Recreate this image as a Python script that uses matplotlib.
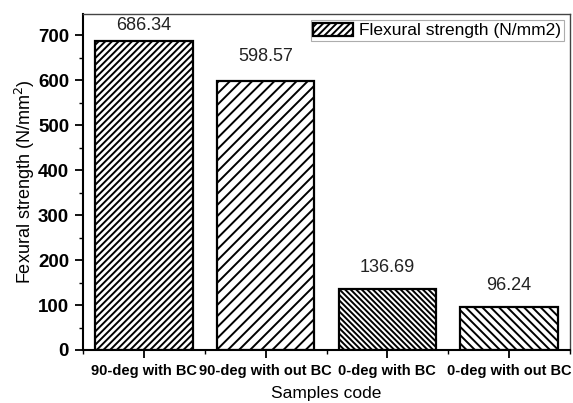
import matplotlib
matplotlib.use("Agg")
import matplotlib.pyplot as plt
from matplotlib.ticker import MultipleLocator

plt.rcParams['font.family'] = ['Liberation Sans', 'DejaVu Sans']
plt.rcParams['hatch.linewidth'] = 1.4

categories = ["90-deg with BC", "90-deg with out BC", "0-deg with BC", "0-deg with out BC"]
values = [686.34, 598.57, 136.69, 96.24]
labels = ["686.34", "598.57", "136.69", "96.24"]
# style: hatch per bar and label gap above each bar (data units)
hatches = ["/////", "///", "\\" * 6, "\\" * 4]
label_gap = [36, 55, 47, 47]

fig = plt.figure(figsize=(5.73, 4.03), dpi=100)
ax = fig.add_axes([83/573, 1-350/403, (570-83)/573, (350-14)/403])

x = list(range(len(categories)))
bars = ax.bar(x, values, width=0.8, color="white", edgecolor="black", linewidth=1.6)
for b, h in zip(bars, hatches):
    b.set_hatch(h)
bars[0].set_label("Flexural strength (N/mm2)")

for xi, v, t, g in zip(x, values, labels, label_gap):
    ax.text(xi, v + g, t, ha="center", va="center", fontsize=13, color="#222222")

ax.set_xlim(-0.5, 3.5)
ax.set_ylim(0, 747)
ax.set_xticks(x)
ax.set_xticklabels(categories, fontsize=10.5, fontweight="bold")
ax.set_xticks([i + 0.5 for i in range(-1, 4)], minor=True)
ax.yaxis.set_major_locator(MultipleLocator(100))
ax.yaxis.set_minor_locator(MultipleLocator(50))
ax.tick_params(axis="both", which="major", direction="out", length=6, width=1.3, pad=4)
ax.tick_params(axis="both", which="minor", direction="out", length=3, width=1.0)
ax.tick_params(axis="y", labelsize=13.5)
for lbl in ax.get_yticklabels():
    lbl.set_fontweight("bold")

ax.set_ylabel("Fexural strength (N/mm$^2$)", fontsize=13, labelpad=0.5)
ax.set_xlabel("Samples code", fontsize=12.5, labelpad=6)

for s in ["left", "bottom"]:
    ax.spines[s].set_linewidth(1.5)
for s in ["top", "right"]:
    ax.spines[s].set_linewidth(1.0)
    ax.spines[s].set_color("#444444")

leg = ax.legend(loc="upper right", fontsize=12.5, frameon=True, fancybox=False,
                edgecolor="#999999", borderpad=0.15, handlelength=2.3, handleheight=0.8,
                handletextpad=0.35, borderaxespad=0.35)
leg.get_frame().set_linewidth(0.8)

fig.savefig("out.png", dpi=100)
